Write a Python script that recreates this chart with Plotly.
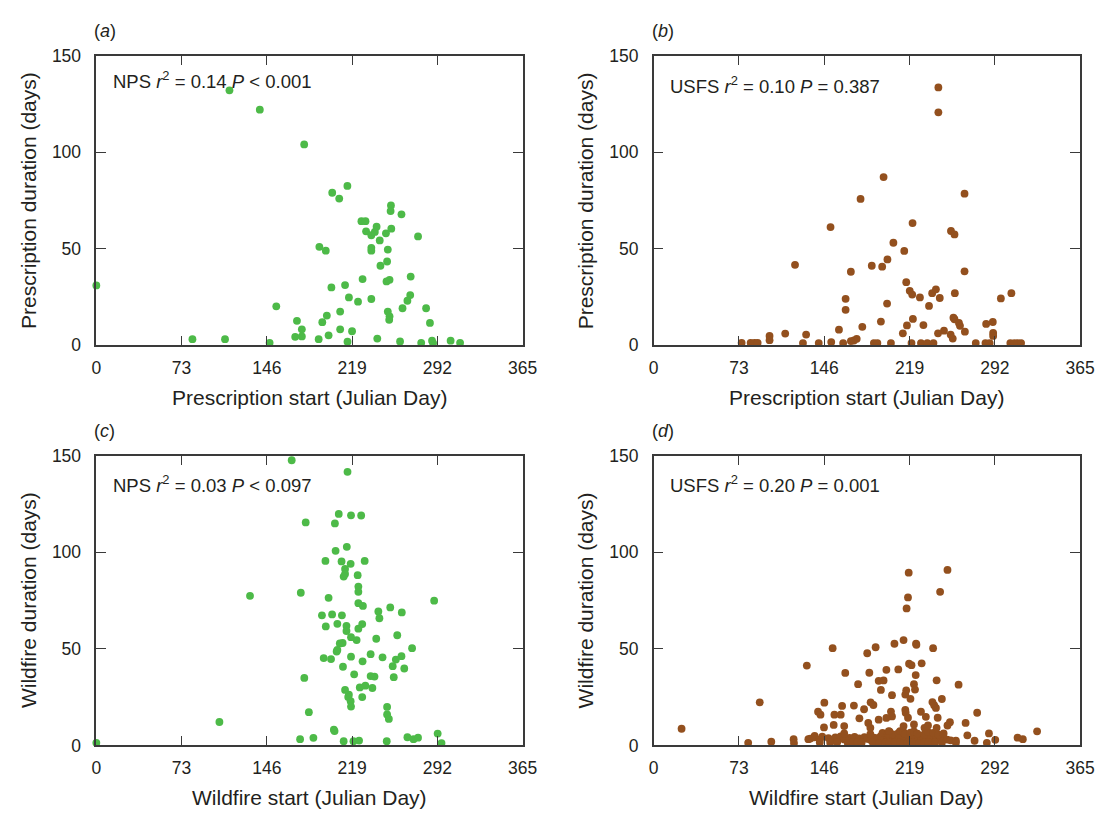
import plotly.graph_objects as go

# ---------------- data ----------------
tick_x = [0, 73, 146, 219, 292, 365]
tick_y = [0, 50, 100, 150]

# (a) NPS prescription
a_x = [0, 114, 140, 178, 202, 208, 215, 191, 196.5, 227,
       230.5, 231, 235.5, 238.5, 240, 242.7, 235.5, 235.5, 248, 249.6,
       252.3, 252, 252.6, 261.3, 275.5, 249, 243.3, 228, 248.5, 251.1,
       269.2, 201.3, 213, 216.3, 224.1, 235.5, 268.8, 266.4, 262.2, 282.4,
       285.7, 154.1, 171.8, 176, 193.5, 197.4, 208.8, 249.6, 251.1, 250.8,
       208.8, 219, 198.9, 170.3, 176, 190.4, 82.3, 110.2, 148.4, 215.1,
       240.6, 260.1, 278.2, 287.5, 288.4, 303.4, 311.5]
a_y = [31, 132, 122, 104, 79, 76, 82.5, 51, 49, 64.3,
       64.3, 59, 57, 58.7, 61.4, 54.3, 50.5, 49, 58, 49.6,
       72.4, 69.5, 60.4, 67.8, 56.4, 43.4, 41.2, 34.3, 33.1, 33.9,
       35.6, 30, 31.2, 24.8, 22.6, 24, 26, 23.1, 19.2, 19.2,
       11.6, 20.2, 12.7, 8.3, 12, 15.4, 17.5, 17.5, 15, 13.2,
       8.3, 7.3, 5.2, 4.4, 4.6, 3.2, 3.2, 3.2, 1.3, 1.9,
       3.5, 2, 1.3, 2.4, 1.2, 2.4, 1.3]

# (b) USFS prescription
b_x = [243.7, 243.7, 196.8, 177.1, 266.1, 151.4, 221.6, 254.5, 257.5, 205.2,
       214.5, 200.1, 186.7, 195.6, 121, 168.8, 266.1, 216.2, 219.2, 221.3,
       238.4, 241.6, 227.9, 244.9, 257.8, 297.2, 306.2, 164.3, 164.3, 199.8,
       235.7, 221.9, 256.6, 257.5, 261.3, 262.2, 290.3, 284.6, 194.5, 178.6,
       216.8, 230.9, 158.6, 248.5, 243.4, 266.4, 213.3, 254.2, 256, 290.6,
       290.6, 112.6, 130.5, 99.2, 99.2, 173.8, 171.4, 168.8, 75.3, 83,
       86.3, 89, 127.8, 141.3, 152, 162.2, 188.5, 191.5, 203.1, 220.7,
       228.8, 234.2, 239.5, 275.7, 284, 287.6, 305.3, 308.8, 311.5, 314.5]
b_y = [133.5, 120.6, 87.1, 75.8, 78.5, 61.2, 63.3, 59.2, 57.4, 53.1,
       48.9, 44.5, 41.2, 40.7, 41.7, 38.1, 38.3, 32.7, 28.2, 26.3,
       27, 29, 24.8, 24.5, 27, 24.3, 27, 24.1, 18.4, 21.6,
       20.4, 13.7, 14.3, 13.5, 11.6, 10.1, 12.1, 11.1, 12.3, 9.6,
       10.3, 10.5, 8.1, 7.6, 6.2, 7.1, 6.2, 5.6, 3.5, 6.4,
       4.9, 6.1, 5.6, 4.9, 2.7, 3.4, 2.5, 2.2, 1.3, 1.3,
       1.3, 1.3, 1.2, 1.2, 1.7, 1.2, 1.2, 1.2, 1.2, 1.2,
       1.2, 1.2, 1.2, 1.2, 1.2, 1.2, 1.2, 1.2, 1.2, 1.2]

# (c) NPS wildfire
c_x = [167.3, 215.1, 207.6, 218.1, 226.8, 179.3, 204.3, 214.5, 204.9, 196.2,
       210, 217.8, 229.8, 213, 213, 211.8, 223.8, 224.4, 224.4, 175.1,
       131.6, 198.9, 289.3, 224.4, 228.3, 251.7, 241.5, 261.6, 193.2, 201.9,
       210.3, 242.4, 206.4, 214.2, 227.7, 196.5, 224.4, 214.2, 257.7, 218.1,
       239.7, 222.9, 208.5, 210.9, 270.4, 205.8, 206.4, 234.9, 261.3, 194.7,
       201, 218.1, 245.1, 256.5, 228, 211.2, 253.8, 263.7, 220.8, 234.9,
       238.2, 254.7, 178.1, 230.4, 225.6, 236.4, 213, 216.3, 215.7, 227.7,
       217.8, 218.1, 249, 249, 250.5, 182, 105.4, 203.4, 204, 292.3,
       174.5, 185.9, 266.4, 271.6, 275.5, 211.8, 220.2, 225, 248.7, 295.6,
       0]
c_y = [147.6, 141.6, 119.8, 119.1, 119, 115.4, 114.9, 102.8, 100.7, 95.5,
       95.2, 94, 95.5, 91.3, 88.7, 87.4, 88.1, 82.2, 79.5, 79,
       77.4, 76.4, 74.9, 73.6, 72.2, 71.4, 69.3, 68.8, 67.3, 67.8,
       67.3, 65.8, 62.9, 61.9, 62.8, 61.6, 60.4, 59.2, 57, 56,
       55.2, 54.5, 52.8, 53, 50.3, 48.6, 49.4, 47.2, 46.2, 45.2,
       44.7, 45.9, 45.6, 44.4, 43.5, 40.7, 41, 39.8, 36.8, 35.9,
       35.6, 35.3, 34.9, 30.9, 30, 29.7, 28.7, 26.2, 25.1, 25,
       22.9, 20.1, 19.9, 16, 13.7, 17.2, 12.1, 8.1, 7.4, 6.1,
       3.2, 3.9, 4.2, 3.2, 4, 2.2, 2.2, 2.5, 2.2, 1.2,
       1.3]

# (d) USFS wildfire
d_x = [251.5, 218.3, 245.2, 217.7, 216.5, 213.9, 206.1, 224.6, 224.9, 239.2,
       153.2, 190, 182.8, 131.1, 218.6, 220.7, 229.4, 164, 184.6, 199.2,
       209.4, 224.3, 192.6, 196.8, 242.2, 175, 222.8, 261, 194.5, 223.7,
       216.2, 215.4, 204, 219.8, 246.7, 90.8, 146.1, 185.7, 188.1, 238.6,
       240.1, 241.6, 161.3, 171.4, 180.1, 215.4, 215.7, 228.8, 276.9, 140.7,
       142.8, 154.7, 160.1, 203.1, 204, 199.2, 192.6, 176.1, 233, 217.7,
       243.1, 253.6, 251.5, 267, 183.7, 154.1, 145.8, 163.1, 23.9, 328.2,
       268.5, 287, 311.5, 316, 292.4, 274.7, 258.7, 285.2, 80.9, 100.7,
       119.8, 120.1, 132.4, 137.8,
       134.1, 137.7, 142.2, 144.3, 149.6, 152, 155.5, 157.4, 160.1, 163.1,
       167.6, 169.7, 172, 175.9, 178, 180.4, 182.5, 185.5, 188.5, 191.5,
       194.4, 197.4, 200.4, 202.8, 204.9, 207.3, 209.4, 211.8, 213.9, 216.8,
       219.2, 221.3, 224.3, 226.4, 228.8, 231.2, 233.6, 236.3, 239.2, 242.2,
       245.2, 248.2, 251.2, 254.2,
       142.2, 151.1, 157.1, 166.1, 170.5, 174.4, 178, 187.6, 193, 198.3,
       201.9, 206.4, 210.9, 213.9, 217.4, 219.8, 222.8, 227.3, 231.8, 235.4,
       240.7, 246.7, 258.7,
       163.1, 185.5, 195.9, 200.4, 201.9, 204.9, 209.4, 210.9, 213.9, 215.4,
       219.8, 222.8, 225.8, 231.8, 234.8, 239.2, 243.7, 248.2,
       213.9, 222.8, 231.8, 234.8, 201.3, 242.2, 185.5]
d_y = [90.8, 89.4, 79.5, 76.6, 70.9, 54.5, 52.6, 52.6, 52.1, 50.3,
       50.3, 50.8, 47.7, 41.3, 42.3, 41.5, 42.5, 37.5, 37.6, 39.1,
       39.3, 36.4, 33.4, 33.6, 33.7, 31.7, 31.7, 31.4, 28.7, 28.9,
       28.5, 26.3, 26, 24.1, 24, 22.3, 22.1, 22.3, 20.9, 22.4,
       20.8, 19.4, 20.4, 20.6, 18.7, 18.4, 16.9, 17.4, 16.9, 17.4,
       15.9, 15.9, 15.9, 17.5, 15, 14.2, 13.3, 14, 14.8, 14.3,
       14.3, 12, 10.3, 11.6, 11.6, 10.6, 9.3, 10, 8.6, 7.3,
       5.2, 6.2, 4, 3.2, 2.9, 2.4, 2.4, 1.3, 1.3, 1.9,
       3.2, 1.2, 3.2, 4.9,
       3.5, 4.2, 3.0, 4.5, 3.8, 2.9, 4.1, 3.3, 4.6, 3.1,
       3.9, 2.8, 4.4, 3.6, 3.0, 4.3, 3.4, 2.9, 4.0, 3.7,
       4.8, 3.2, 4.1, 3.5, 4.7, 3.0, 4.2, 3.8, 4.5, 3.3,
       4.9, 3.6, 4.0, 3.1, 4.4, 3.7, 2.9, 4.3, 3.5, 4.1,
       3.2, 3.8, 3.0, 2.6,
       1.5, 1.4, 1.6, 1.3, 1.5, 1.7, 1.4, 1.5, 1.3, 1.6,
       1.4, 1.5, 1.7, 1.3, 1.6, 1.4, 1.5, 1.3, 1.6, 1.4,
       1.5, 1.3, 1.4,
       6.2, 5.8, 6.5, 6.0, 7.1, 5.7, 6.3, 7.4, 6.8, 5.9,
       6.6, 7.2, 6.1, 5.8, 6.9, 6.4, 5.6, 6.2,
       10.0, 10.8, 9.1, 10.3, 7.4, 9.1, 9.1]

texts = [
    "NPS <i>r</i><sup>2</sup> = 0.14 <i>P</i> < 0.001",
    "USFS <i>r</i><sup>2</sup> = 0.10 <i>P</i> = 0.387",
    "NPS <i>r</i><sup>2</sup> = 0.03 <i>P</i> < 0.097",
    "USFS <i>r</i><sup>2</sup> = 0.20 <i>P</i> = 0.001",
]
panel_letters = ["a", "b", "c", "d"]
x_titles = ["Prescription start (Julian Day)", "Prescription start (Julian Day)",
            "Wildfire start (Julian Day)", "Wildfire start (Julian Day)"]
y_titles = ["Prescription duration (days)", "Prescription duration (days)",
            "Wildfire duration (days)", "Wildfire duration (days)"]

GREEN = "#4DBA48"
BROWN = "#93501E"
series = [(a_x, a_y, GREEN), (b_x, b_y, BROWN), (c_x, c_y, GREEN), (d_x, d_y, BROWN)]

# ---------------- layout geometry (pixels) ----------------
W, H = 1116, 823
FONT = "Liberation Sans, Arial, Helvetica, sans-serif"
TXT = "#231F20"
px_left = [93, 660.5, 93, 660.5]
px_right = [527, 1094.7, 527, 1094.7]
px_top = [46.7, 46.7, 456.7, 456.7]
px_bot = [343.7, 343.7, 753.7, 753.7]

fig = go.Figure()
annotations = []
for i, (xs, ys, col) in enumerate(series):
    n = "" if i == 0 else str(i + 1)
    fig.add_trace(go.Scatter(
        x=xs, y=ys, mode="markers", xaxis="x" + n, yaxis="y" + n,
        marker=dict(color=col, size=7.8, line=dict(width=0)),
        cliponaxis=False, showlegend=False, hoverinfo="x+y"))
    axcommon = dict(ticks="inside", ticklen=10, tickwidth=1.3, tickcolor="#3a3a3a",
                    showline=True, linecolor="#3a3a3a", linewidth=1.5, mirror="ticks",
                    showgrid=False, zeroline=False,
                    tickfont=dict(family=FONT, size=17.5, color=TXT))
    fig.layout["xaxis" + n] = dict(
        domain=[px_left[i] / W, px_right[i] / W], range=[0, 365],
        tickvals=tick_x, anchor="y" + n, ticklabelstandoff=6, **axcommon)
    fig.layout["yaxis" + n] = dict(
        domain=[1 - px_bot[i] / H, 1 - px_top[i] / H], range=[0, 150],
        tickvals=tick_y, anchor="x" + n, ticklabelstandoff=10, **axcommon)

    cx = (px_left[i] + px_right[i]) / 2
    cy = (px_top[i] + px_bot[i]) / 2
    # panel letter
    annotations.append(dict(
        text="(<i>%s</i>)" % panel_letters[i], xref="paper", yref="paper",
        x=(px_left[i] - 4) / W, y=1 - (px_top[i] - 25.5) / H, xanchor="left", yanchor="middle",
        showarrow=False, font=dict(family=FONT, size=18, color=TXT)))
    # stats text
    ty = [72, 77, 486, 485.5][i]
    annotations.append(dict(
        text=texts[i], xref="paper", yref="paper",
        x=(px_left[i] + 15) / W, y=1 - ty / H, xanchor="left", yanchor="middle",
        showarrow=False, font=dict(family=FONT, size=18.5, color=TXT)))
    # x title
    annotations.append(dict(
        text=x_titles[i], xref="paper", yref="paper",
        x=cx / W, y=1 - (px_bot[i] + 53) / H, xanchor="center", yanchor="middle",
        showarrow=False, font=dict(family=FONT, size=21, color=TXT)))
    # y title
    annotations.append(dict(
        text=y_titles[i], xref="paper", yref="paper", textangle=-90,
        x=(px_left[i] - 69) / W, y=1 - cy / H, xanchor="center", yanchor="middle",
        showarrow=False, font=dict(family=FONT, size=21, color=TXT)))

fig.update_layout(
    width=W, height=H, margin=dict(l=0, r=0, t=0, b=0),
    paper_bgcolor="white", plot_bgcolor="white",
    annotations=annotations, showlegend=False)

fig.write_html("out.html")
